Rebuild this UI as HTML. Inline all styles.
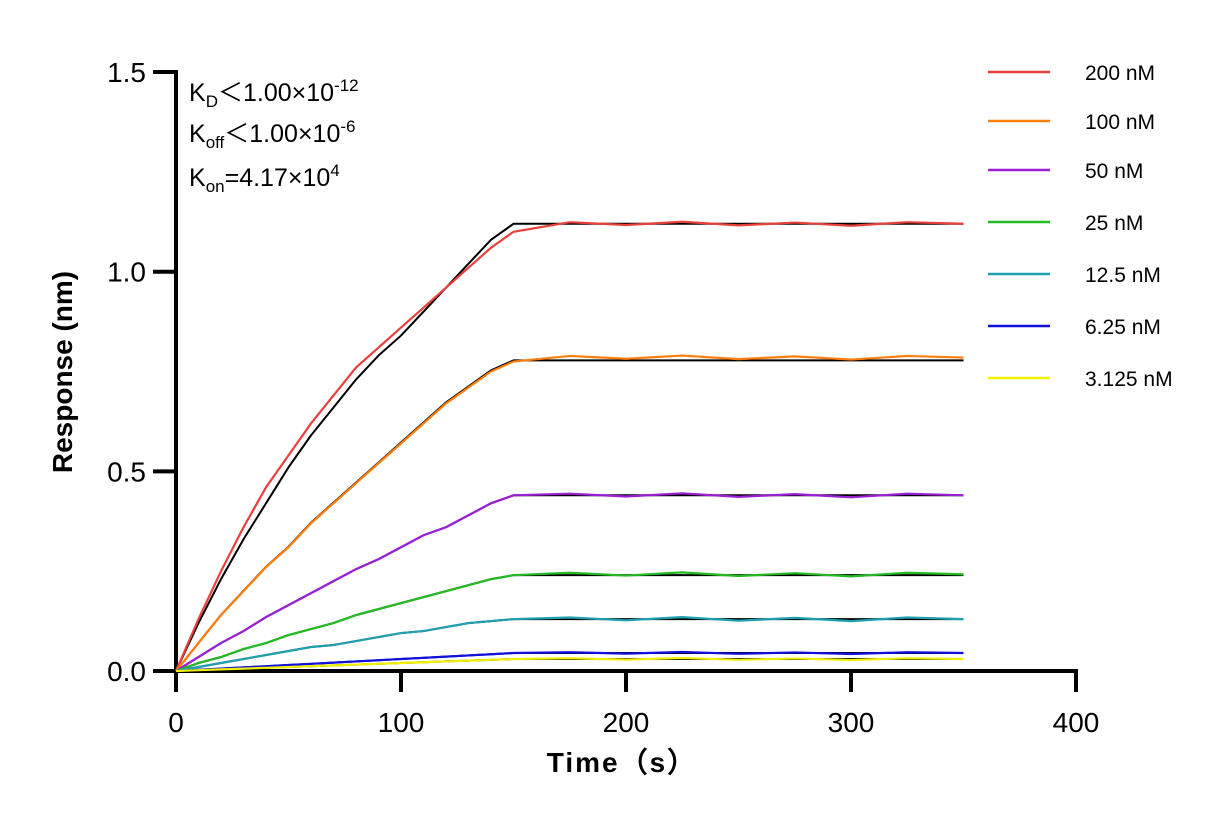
<!DOCTYPE html>
<html><head><meta charset="utf-8"><style>
body{margin:0;background:#fff}
svg{font-family:"Liberation Sans",Arial,sans-serif}
</style></head><body>
<svg id="chart" width="1232" height="825" viewBox="0 0 1232 825">
<g id="axes"></g>
<g id="series"></g>
<g font-size="25" fill="#000">
<text x="189" y="101">K<tspan font-size="17" dy="6">D</tspan><tspan dy="-6">＜1.00×10</tspan><tspan font-size="17" dy="-10">-12</tspan></text>
<text x="189" y="142">K<tspan font-size="17" dy="6">off</tspan><tspan dy="-6">＜1.00×10</tspan><tspan font-size="17" dy="-10">-6</tspan></text>
<text x="189" y="186">K<tspan font-size="17" dy="6">on</tspan><tspan dy="-6">=4.17×10</tspan><tspan font-size="17" dy="-10">4</tspan></text>
</g>
<g id="legend"></g>
</svg>
<script>
const assocTimes=[0,10,20,30,40,50,60,70,80,90,100,110,120,130,140,150];
const concLabels=["200 nM","100 nM","50 nM","25 nM","12.5 nM","6.25 nM","3.125 nM"];
const colors=["#e8413c","#ff7f0e","#9b1fd6","#22bb22","#1fa0b0","#1010e0","#f0f000"];
const assocRed=[0,.13,.25,.36,.46,.54,.62,.69,.76,.81,.86,.91,.96,1.01,1.06,1.10];
const assocOrange=[0,.07,.14,.20,.26,.31,.37,.42,.47,.52,.57,.62,.67,.71,.75,.775];
const assocPurple=[0,.035,.07,.10,.135,.165,.195,.225,.255,.28,.31,.34,.36,.39,.42,.44];
const assocGreen=[0,.02,.035,.055,.07,.09,.105,.12,.14,.155,.17,.185,.20,.215,.23,.24];
const assocCyan=[0,.01,.02,.03,.04,.05,.06,.065,.075,.085,.095,.10,.11,.12,.125,.13];
const assocBlue=[0,.003,.006,.009,.012,.015,.018,.021,.024,.027,.030,.033,.036,.039,.042,.045];
const assocYellow=[0,.002,.004,.006,.008,.010,.012,.014,.016,.018,.020,.022,.024,.026,.028,.03];
const fitRed=[0,.12,.23,.33,.42,.51,.59,.66,.73,.79,.84,.90,.96,1.02,1.08,1.12];
const plateau=[1.12,0.785,0.44,0.242,0.13,0.045,0.03];
const fitPlateau=[1.12,0.778,0.44,0.24,0.13,0.045,0.03];
const dissocTimes=[150,175,200,225,250,275,300,325,350];
const xTicks=[0,100,200,300,400];
const yTicks=[0.0,0.5,1.0,1.5];
const assoc=[assocRed,assocOrange,assocPurple,assocGreen,assocCyan,assocBlue,assocYellow];

const NS="http://www.w3.org/2000/svg";
const X=t=>176+t*2.25;
const Y=v=>671-v*399.3;
function mk(tag,attrs,parent){const e=document.createElementNS(NS,tag);for(const k in attrs)e.setAttribute(k,attrs[k]);parent.appendChild(e);return e;}
const axes=document.getElementById('axes');
let e=mk('line',{x1:176,y1:671,x2:1076,y2:671,stroke:'#000','stroke-width':4},axes);


e=mk('line',{x1:176,y1:70,x2:176,y2:673,stroke:'#000','stroke-width':4},axes);


xTicks.forEach(t=>{
 let l=mk('line',{x1:X(t),y1:669,x2:X(t),y2:692,stroke:'#000','stroke-width':4},axes);
 
 
 let tx=mk('text',{x:X(t),y:732,'text-anchor':'middle','font-size':28},axes);tx.textContent=t;
 
 
});
yTicks.forEach(v=>{
 let l=mk('line',{x1:153,y1:Y(v),x2:178,y2:Y(v),stroke:'#000','stroke-width':4},axes);
 
 
 let tx=mk('text',{x:146,y:Y(v)+10,'text-anchor':'end','font-size':28},axes);tx.textContent=v.toFixed(1);
 
 
});
let xt=mk('text',{x:622,y:772,'text-anchor':'middle','font-size':28,'font-weight':'bold','letter-spacing':'2'},axes);xt.textContent='Time（s）';


let yt=mk('text',{x:0,y:0,'text-anchor':'middle','font-size':28,'font-weight':'bold',transform:'translate(72,372) rotate(-90)'},axes);yt.textContent='Response (nm)';



const ser=document.getElementById('series');
const wig=[0,.004,-.003,.005,-.004,.003,-.005,.004,0];
assoc.forEach((arr,i)=>{
 const fit=i===0?fitRed:arr;
 let pts=assocTimes.map((t,j)=>X(t)+','+Y(fit[j]*fitPlateau[i]/fit[fit.length-1]));
 pts.push(X(350)+','+Y(fitPlateau[i]));
 let p=mk('polyline',{points:pts.join(' '),fill:'none',stroke:'#000','stroke-width':2},ser);
 
 
});
assoc.forEach((arr,i)=>{
 let pts=assocTimes.map((t,j)=>X(t)+','+Y(arr[j]));
 dissocTimes.forEach((t,j)=>{if(j>0)pts.push(X(t)+','+Y(plateau[i]+wig[j]*(i<5?1:0.5)));});
 let p=mk('polyline',{points:pts.join(' '),fill:'none',stroke:colors[i],'stroke-width':2.2},ser);
 
 
});
const leg=document.getElementById('legend');
const legY=[72,121,170,222,274,326,378];
concLabels.forEach((c,i)=>{
 let l=mk('line',{x1:988,y1:legY[i],x2:1050,y2:legY[i],stroke:colors[i],'stroke-width':2.5},leg);
 
 
 let tx=mk('text',{x:1085,y:legY[i]+8,'font-size':21},leg);tx.textContent=c;
 
 
});
</script>
</body></html>
